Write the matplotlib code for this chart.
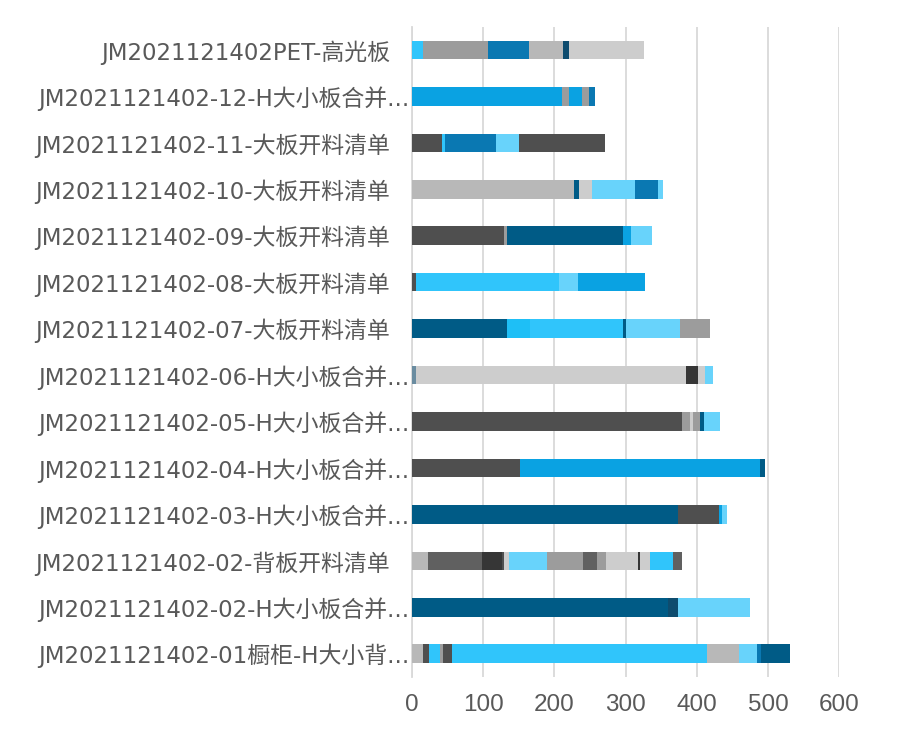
import matplotlib
matplotlib.use("Agg")
import matplotlib.pyplot as plt
import matplotlib.transforms as mtransforms

plt.rcParams['font.family'] = ['DejaVu Sans', 'Noto Sans CJK SC']

# categories, top to bottom
labels = [
    "JM2021121402PET-高光板",
    "JM2021121402-12-H大小板合并...",
    "JM2021121402-11-大板开料清单",
    "JM2021121402-10-大板开料清单",
    "JM2021121402-09-大板开料清单",
    "JM2021121402-08-大板开料清单",
    "JM2021121402-07-大板开料清单",
    "JM2021121402-06-H大小板合并...",
    "JM2021121402-05-H大小板合并...",
    "JM2021121402-04-H大小板合并...",
    "JM2021121402-03-H大小板合并...",
    "JM2021121402-02-背板开料清单",
    "JM2021121402-02-H大小板合并...",
    "JM2021121402-01橱柜-H大小背...",
]

# stacked segment values per bar (left to right)
seg_values = [
    [15, 92, 57, 48, 8, 106],
    [211, 9, 19, 9, 9],
    [42, 4, 72, 32, 121],
    [228, 7, 18, 61, 32, 6],
    [129, 4, 164, 11, 29],
    [6, 200, 27, 95],
    [133, 33, 131, 4, 76, 42],
    [5, 380, 17, 10, 11],
    [379, 11, 5, 9, 6, 23],
    [152, 337, 7],
    [374, 58, 3, 8],
    [22, 77, 27, 3, 7, 54, 50, 20, 13, 44, 4, 14, 32, 12],
    [360, 14, 101],
    [16, 8, 15, 5, 12, 359, 45, 25, 6, 40],
]

# series key of every segment
seg_series = [
    ["sky", "gray", "mblue", "lgray", "navy", "vlgray"],
    ["blue", "gray", "blue", "gray", "mblue"],
    ["dgray", "sky", "mblue", "lsky", "dgray"],
    ["lgray", "dblue", "vlgray", "lsky", "mblue", "lsky"],
    ["dgray", "gray", "dblue", "blue", "lsky"],
    ["dgray", "sky", "lsky", "blue"],
    ["dblue", "sky2", "sky", "dblue", "lsky", "gray"],
    ["steel", "vlgray", "darkest", "vlgray", "lsky"],
    ["dgray", "gray", "vlgray", "gray", "dblue", "lsky"],
    ["dgray", "blue", "dblue"],
    ["dblue", "dgray", "blue", "lsky"],
    ["lgray", "dgray2", "darkest", "dgray", "vlgray", "lsky", "gray", "dgray2",
     "gray", "vlgray", "darkest", "vlgray", "sky", "dgray2"],
    ["dblue", "navy", "lsky"],
    ["lgray", "dgray", "sky", "gray", "dgray", "sky", "lgray", "lsky", "mblue", "dblue"],
]

palette = {
    "sky": "#30c5fb", "sky2": "#1ebff6", "lsky": "#68d3fb", "blue": "#0aa2e2",
    "mblue": "#0a78b2", "dblue": "#005b86", "navy": "#0e4c6e",
    "dgray": "#4f4f4f", "dgray2": "#606060", "darkest": "#363636",
    "gray": "#9c9c9c", "lgray": "#b8b8b8", "vlgray": "#cdcdcd", "steel": "#6a8ca0",
}

fig = plt.figure(figsize=(9.18, 7.37), dpi=100)
ax = fig.add_axes([0.4488, 0.0814, 0.914 - 0.4488, 0.9637 - 0.0814])

for i, (vals, sers) in enumerate(zip(seg_values, seg_series)):
    left = 0
    for v, s in zip(vals, sers):
        ax.barh(i, v, left=left, height=0.40, color=palette[s], linewidth=0, zorder=3)
        left += v

ax.set_xlim(0, 600)
ax.set_ylim(len(labels) - 0.5, -0.5)
ax.set_xticks(range(0, 601, 100))
ax.set_xticklabels([str(v) for v in range(0, 601, 100)],
                   family=['Liberation Sans', 'DejaVu Sans'], fontsize=17.5, color="#595959")
ax.set_yticks(range(len(labels)))
ax.set_yticklabels(labels, fontsize=16.5, color="#595959")
ax.tick_params(axis="y", length=0, pad=16)
ax.tick_params(axis="x", length=0, pad=12)

# truncated labels sit a bit further right
for t in ax.get_yticklabels():
    if t.get_text().endswith("..."):
        t.set_transform(t.get_transform() + mtransforms.ScaledTranslation(20 / 100, 0, fig.dpi_scale_trans))

ax.grid(axis="x", color="#d9d9d9", linewidth=1.3, zorder=0)
for side in ["top", "right", "bottom"]:
    ax.spines[side].set_visible(False)
ax.spines["left"].set_color("#d9d9d9")
ax.spines["left"].set_linewidth(1.3)

fig.savefig("out.png", dpi=100)
